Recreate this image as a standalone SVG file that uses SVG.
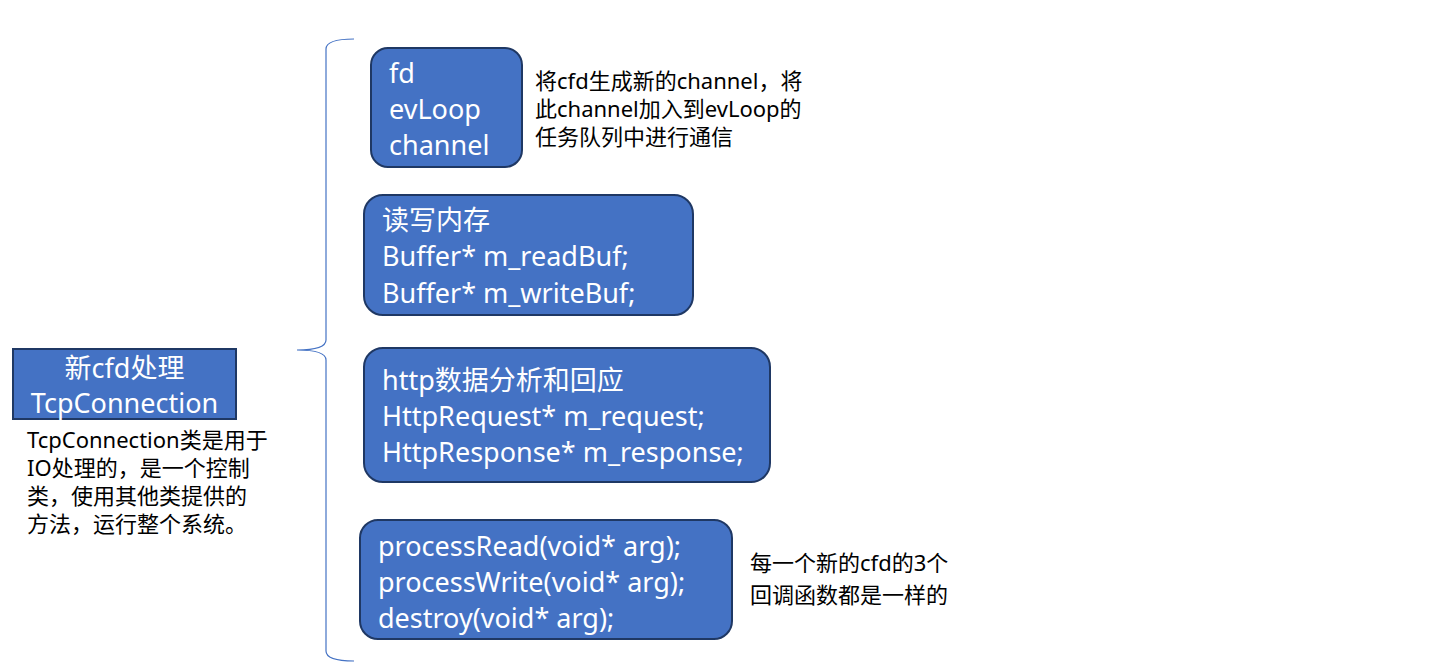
<svg xmlns="http://www.w3.org/2000/svg" width="1456" height="670" viewBox="0 0 1456 670">
<style>
.box{fill:#4472c4;stroke:#1f3864;stroke-width:2}
.wt{fill:#ffffff;font-family:"Noto Sans","Noto Sans CJK SC",sans-serif;font-size:27px}
.bt{fill:#000000;font-family:"Noto Sans","Noto Sans CJK SC",sans-serif;font-size:22px}
.brace{fill:none;stroke:#4472c4;stroke-width:1.2}
</style>
<rect width="1456" height="670" fill="#ffffff"/>
<g id="brace">
<path class="brace" d="M354,39 Q326,39 326,49 L326,340 Q326,350 297,350 Q326,350 326,360 L326,651 Q326,661 354,661"/>
</g>
<g id="main">
<rect class="box" x="13" y="349" width="223" height="70"/>
<text class="wt" x="124.5" y="378" text-anchor="middle" font-size="29">新cfd处理</text>
<text class="wt" x="124.5" y="413" text-anchor="middle" font-size="29">TcpConnection</text>
</g>
<g id="main-desc">
<text class="bt" x="27" y="448">TcpConnection类是用于</text>
<text class="bt" x="27" y="476">IO处理的，是一个控制</text>
<text class="bt" x="27" y="504">类，使用其他类提供的</text>
<text class="bt" x="27" y="532">方法，运行整个系统。</text>
</g>
<g id="node-fd">
<rect class="box" x="371" y="48" width="151" height="119" rx="17"/>
<text class="wt" x="389" y="83">fd</text>
<text class="wt" x="389" y="119">evLoop</text>
<text class="wt" x="389" y="155">channel</text>
</g>
<g id="note-fd">
<text class="bt" x="535" y="89">将cfd生成新的channel，将</text>
<text class="bt" x="535" y="117">此channel加入到evLoop的</text>
<text class="bt" x="535" y="145">任务队列中进行通信</text>
</g>
<g id="node-buf">
<rect class="box" x="364" y="195" width="329" height="120" rx="19"/>
<text class="wt" x="382" y="230" font-size="28">读写内存</text>
<text class="wt" x="382" y="266">Buffer* m_readBuf;</text>
<text class="wt" x="382" y="303">Buffer* m_writeBuf;</text>
</g>
<g id="node-http">
<rect class="box" x="364" y="348" width="406" height="134" rx="19"/>
<text class="wt" x="382" y="390" font-size="28">http数据分析和回应</text>
<text class="wt" x="382" y="426">HttpRequest* m_request;</text>
<text class="wt" x="382" y="462">HttpResponse* m_response;</text>
</g>
<g id="node-cb">
<rect class="box" x="360" y="520" width="372" height="119" rx="18"/>
<text class="wt" x="378" y="556">processRead(void* arg);</text>
<text class="wt" x="378" y="592">processWrite(void* arg);</text>
<text class="wt" x="378" y="628">destroy(void* arg);</text>
</g>
<g id="note-cb">
<text class="bt" x="750" y="571">每一个新的cfd的3个</text>
<text class="bt" x="750" y="603">回调函数都是一样的</text>
</g>
</svg>
